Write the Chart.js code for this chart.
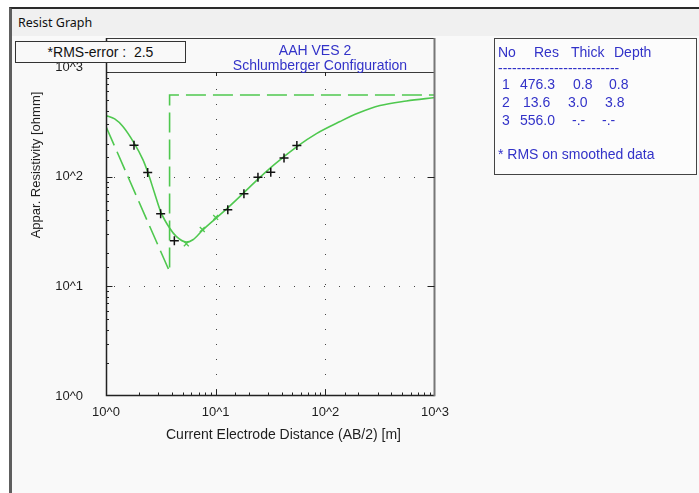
<!DOCTYPE html>
<html>
<head>
<meta charset="utf-8">
<title>Resist Graph</title>
<script src="https://cdn.jsdelivr.net/npm/chart.js@4.4.1/dist/chart.umd.min.js"></script>
<style>
  html, body { margin: 0; padding: 0; }
  body { width: 699px; height: 493px; position: relative; overflow: hidden; background: #fff;
         font-family: "Liberation Sans", Arial, sans-serif; }
  #win { position: absolute; left: 9px; top: 7px; width: 700px; height: 500px;
         border-left: 3px solid #5e5e5e; border-top: 2px solid #2b2b2b; background: #f9f9f9; }
  #bar { position: absolute; left: 12px; top: 9px; width: 700px; height: 27px; background: #f0f0f0; }
  #barTitle { position: absolute; left: 18px; top: 15px; font: 12.5px/16px "Noto Sans", sans-serif; color: #111; }
  #chart { position: absolute; left: 0; top: 0; }
  .t { position: absolute; white-space: pre; line-height: 16px; font-size: 14px; color: #1e1e1e; }
  .blue { color: #3232c8; }
  #rms { position: absolute; left: 15px; top: 41px; width: 169px; height: 20px; border: 1px solid #333;
         background: #f9f9f9; font-size: 14px; line-height: 20px; text-align: center; color: #111; white-space: pre; }
  #panel { position: absolute; left: 494px; top: 38px; width: 201px; height: 135px; border: 1px solid #444; background: #fcfcfc; }
  #ytitle { position: absolute; left: -49px; top: 157px; width: 170px; text-align: center; font-size: 13px;
            transform: rotate(-90deg); }
</style>
</head>
<body>
<div id="win"></div>
<div id="bar"></div>
<div id="barTitle">Resist Graph</div>
<canvas id="chart" width="699" height="493"></canvas>
<div id="panel"></div>
<div id="rms"></div>
<div class="t blue" style="left:215px;top:42px;width:200px;text-align:center">AAH VES 2</div>
<div class="t blue" style="left:220px;top:57px;width:200px;text-align:center">Schlumberger Configuration</div>
<div class="t" style="left:166px;top:426px">Current Electrode Distance (AB/2) [m]</div>
<div class="t" id="ytitle">Appar. Resistivity [ohmm]</div>

<script>
// gemessene Sondierung: AB/2 [m] und scheinbarer Widerstand [ohmm]
const abHalf = [1.8, 2.4, 3.15, 4.2, 12.9, 18.1, 24.3, 31.8, 42, 55];
const rhoA = [193, 109, 46, 26, 50, 70, 99, 110, 148, 192];

// geglaettete Punkte (x-Marker)
const smoothAB = [5.4, 7.55, 10];
const smoothRho = [24.4, 33, 42.5];

// berechnete Modellkurve
const curveAB = [1, 1.2, 1.42, 1.8, 2.17, 2.41, 2.77, 3.15, 3.8, 4.37, 5.4, 6.2, 7.55, 10,
                 12.9, 18.1, 24.3, 31.8, 42, 55, 83, 136, 200, 315, 550, 1000];
const curveRho = [361, 336, 288, 203, 143, 109, 71, 48, 34, 28.5, 25.3, 26.6, 32.3, 41.5,
                  52, 71.5, 95, 121, 152, 188, 247, 318, 380, 445, 490, 527];

// Schichtmodell
const layerNo = [1, 2, 3];
const layerRes = [476.3, 13.6, 556.0];
const layerThick = [0.8, 3.0];
const layerDepth = [0.8, 3.8];
const rmsError = 2.5;

const decadeLabels = ['10^0', '10^1', '10^2', '10^3'];
const gridDecades = [10, 100];

const GREEN = '#4fc84f';
const PLOT_TOP = 72;
const FRAME_TOP = 38;

// Modell-Linie aus den Schichten
const modelPts = [
  { x: layerDepth[0], y: layerRes[0] },
  { x: layerDepth[1], y: layerRes[1] },
  { x: layerDepth[1], y: layerRes[2] },
  { x: 1000, y: layerRes[2] }
];

const zip = (xs, ys) => xs.map((v, i) => ({ x: v, y: ys[i] }));
const isDecade = v => {
  const e = Math.round(Math.log10(v));
  return Math.abs(v - Math.pow(10, e)) < 1e-9;
};

// Rahmen, Punktgitter und Teilstriche
const frame = {
  id: 'frame',
  beforeDatasetsDraw(chart) {
    const { ctx, scales: { x, y } } = chart;
    const l = x.getPixelForValue(1), r = x.getPixelForValue(1000), b = y.getPixelForValue(1);
    ctx.save();
    ctx.strokeStyle = '#444';
    ctx.lineWidth = 1;
    ctx.setLineDash([1, 14]);
    ctx.beginPath();
    gridDecades.forEach(v => {
      const px = Math.round(x.getPixelForValue(v)) + 0.5;
      ctx.moveTo(px, PLOT_TOP + 2); ctx.lineTo(px, b);
      const py = Math.round(y.getPixelForValue(v)) + 0.5;
      ctx.moveTo(l + 8, py); ctx.lineTo(r, py);
    });
    ctx.stroke();
    ctx.restore();
  },
  afterDatasetsDraw(chart) {
    const { ctx, scales: { x, y } } = chart;
    const l = Math.round(x.getPixelForValue(1)) + 0.5;
    const r = Math.round(x.getPixelForValue(1000)) - 0.5;
    const b = Math.round(y.getPixelForValue(1)) - 0.5;
    ctx.save();
    ctx.setLineDash([]);

    // Titelbox + Rahmen
    ctx.strokeStyle = '#3a3a3a';
    ctx.lineWidth = 1;
    ctx.beginPath();
    ctx.moveTo(l, FRAME_TOP + 0.5); ctx.lineTo(r, FRAME_TOP + 0.5);
    ctx.moveTo(l, PLOT_TOP + 0.5); ctx.lineTo(r, PLOT_TOP + 0.5);
    ctx.stroke();

    ctx.lineWidth = 1.5;
    ctx.strokeStyle = '#222';
    ctx.beginPath();
    ctx.moveTo(l, FRAME_TOP); ctx.lineTo(l, b);
    ctx.lineTo(r, b);
    ctx.stroke();

    ctx.strokeStyle = '#777';
    ctx.lineWidth = 2;
    ctx.beginPath();
    ctx.moveTo(r, FRAME_TOP); ctx.lineTo(r, b + 0.75);
    ctx.stroke();

    // Teilstriche
    ctx.strokeStyle = '#222';
    ctx.lineWidth = 1;
    ctx.beginPath();
    y.ticks.forEach(t => {
      const py = Math.round(y.getPixelForValue(t.value)) + 0.5;
      if (py < PLOT_TOP || py > b - 1) return;
      const len = isDecade(t.value) ? 6 : 2.5;
      ctx.moveTo(l, py); ctx.lineTo(l + len, py);
    });
    x.ticks.forEach(t => {
      const px = Math.round(x.getPixelForValue(t.value)) + 0.5;
      if (px <= l + 1 || px >= r - 1) return;
      const len = isDecade(t.value) ? 6 : 3;
      ctx.moveTo(px, b); ctx.lineTo(px, b - len);
    });
    gridDecades.forEach(v => {
      const py = Math.round(y.getPixelForValue(v)) + 0.5;
      ctx.moveTo(r, py); ctx.lineTo(r - 7, py);
      const px = Math.round(x.getPixelForValue(v)) + 0.5;
      ctx.moveTo(px, PLOT_TOP); ctx.lineTo(px, PLOT_TOP + 4);
    });
    ctx.stroke();
    ctx.restore();
  }
};

Chart.defaults.font.family = '"Liberation Sans", Arial, sans-serif';
Chart.defaults.font.size = 13;
Chart.defaults.color = '#1e1e1e';

const tickLabel = v => isDecade(v) ? decadeLabels[Math.round(Math.log10(v))] : '';

new Chart(document.getElementById('chart'), {
  type: 'scatter',
  data: {
    datasets: [
      {
        label: 'Messwerte',
        data: zip(abHalf, rhoA),
        pointStyle: 'cross',
        pointRadius: 4.5,
        borderColor: '#111',
        backgroundColor: '#111',
        borderWidth: 1.5
      },
      {
        label: 'geglaettet',
        data: zip(smoothAB, smoothRho),
        pointStyle: 'crossRot',
        pointRadius: 3.5,
        borderColor: GREEN,
        backgroundColor: GREEN,
        borderWidth: 1.3
      },
      {
        label: 'Kurve',
        data: zip(curveAB, curveRho),
        showLine: true,
        cubicInterpolationMode: 'monotone',
        pointRadius: 0,
        borderColor: GREEN,
        borderWidth: 1.6
      },
      {
        label: 'Modell',
        data: modelPts,
        showLine: true,
        pointRadius: 0,
        borderColor: GREEN,
        borderWidth: 1.6,
        borderDash: [20, 7]
      }
    ]
  },
  options: {
    responsive: false,
    animation: false,
    devicePixelRatio: 1,
    layout: { padding: { top: 67, right: 264, bottom: 0, left: 0 } },
    plugins: {
      legend: { display: false },
      tooltip: { enabled: false }
    },
    scales: {
      x: {
        type: 'logarithmic',
        min: 1,
        max: 1000,
        grid: { display: false, drawTicks: false },
        border: { display: false },
        ticks: { autoSkip: false, maxRotation: 0, padding: 9, callback: tickLabel },
        afterFit(s) { s.height = 97; }
      },
      y: {
        type: 'logarithmic',
        min: 1,
        max: 1000,
        grid: { display: false, drawTicks: false },
        border: { display: false },
        ticks: { autoSkip: false, padding: 23, callback: tickLabel },
        afterFit(s) { s.width = 106; }
      }
    }
  },
  plugins: [frame]
});

// RMS-Box
document.getElementById('rms').textContent = '*RMS-error :  ' + rmsError.toFixed(1);

// Tabelle rechts
const addText = (txt, left, top) => {
  const d = document.createElement('div');
  d.className = 't blue';
  d.style.left = left + 'px';
  d.style.top = top + 'px';
  d.textContent = txt;
  document.body.appendChild(d);
};
const headX = [498, 534, 571, 614];
['No', 'Res', 'Thick', 'Depth'].forEach((h, i) => addText(h, headX[i], 44));
addText('-'.repeat(26), 498, 60);
const rowTop = [76, 94, 112];
const resX = [520, 523, 520];
const thickX = [573, 568, 572];
const depthX = [609, 605, 602];
layerNo.forEach((n, i) => {
  addText(String(n), 502, rowTop[i]);
  addText(layerRes[i].toFixed(1), resX[i], rowTop[i]);
  addText(i < layerThick.length ? layerThick[i].toFixed(1) : '-.-', thickX[i], rowTop[i]);
  addText(i < layerDepth.length ? layerDepth[i].toFixed(1) : '-.-', depthX[i], rowTop[i]);
});
addText('* RMS on smoothed data', 498, 146);
</script>
</body>
</html>
